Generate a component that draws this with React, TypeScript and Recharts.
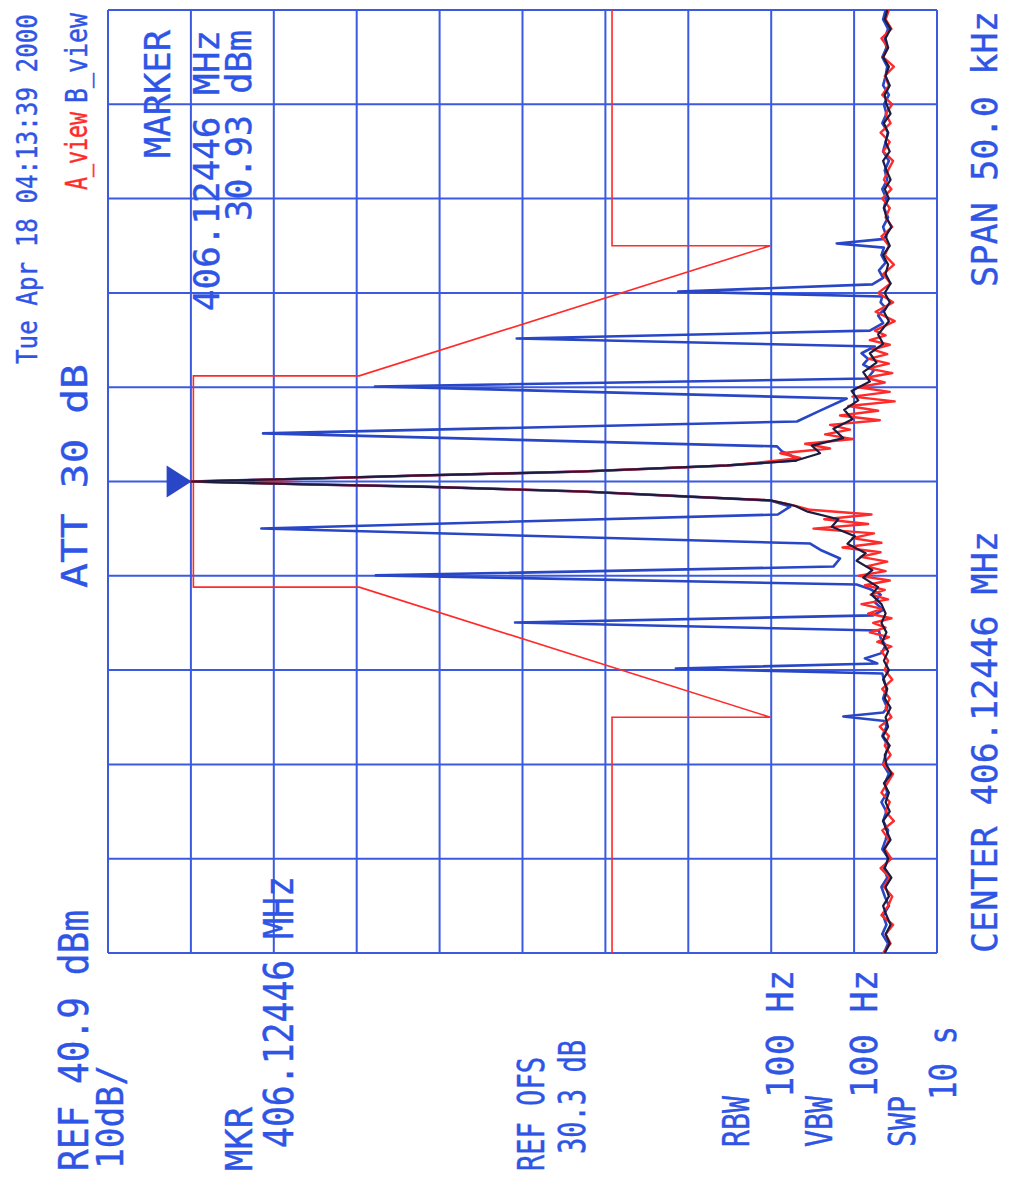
import React from 'react';
import { ScatterChart, Scatter, XAxis, YAxis, CartesianGrid } from 'recharts';

// ---------- data (frequency offset in kHz from 406.12446 MHz, level in dBm) ----------
const REF_LEVEL = 40.9;
const BOTTOM_LEVEL = -59.1;
const AMP_TICKS = [-59.1, -49.1, -39.1, -29.1, -19.1, -9.1, 0.9, 10.9, 20.9, 30.9, 40.9];
const FREQ_TICKS = [-25, -20, -15, -10, -5, 0, 5, 10, 15, 20, 25];

const maskLine: [number, number][] = [
  [-25, -19.9], [-12.5, -19.9], [-12.5, -39.0], [-5.6, 10.6], [-5.6, 30.6],
  [5.6, 30.6], [5.6, 10.6], [12.5, -39.0], [12.5, -19.9], [25, -19.9],
];

const bViewTrace: [number, number][] = [
  [-25, -52.7], [-24.5, -53.2], [-24, -52.5], [-23.5, -53.0], [-23, -52.6], [-22.5, -53.3], [-22, -52.8],
  [-21.5, -52.4], [-21, -53.1], [-20.5, -52.7], [-20, -53.3], [-19.5, -52.5], [-19, -52.9], [-18.5, -53.2],
  [-18, -52.6], [-17.5, -53.0], [-17, -52.4], [-16.5, -53.1], [-16, -52.8], [-15.5, -53.3], [-15, -52.6],
  [-14.5, -52.9], [-14, -53.2], [-13.5, -52.5], [-13, -53.0],
  [-12.7, -52.8], [-12.46, -47.8], [-12.25, -52.6],
  [-12, -53.1], [-11.5, -52.6], [-11, -53.0], [-10.5, -52.7],
  [-10.18, -52.5], [-9.92, -27.6], [-9.65, -51.9], [-9.38, -50.4], [-9.1, -52.4], [-8.7, -52.9], [-8.3, -52.3],
  [-7.9, -52.1], [-7.48, -8.2], [-7.1, -51.4], [-6.8, -52.6], [-6.4, -51.6], [-6.0, -52.3], [-5.7, -51.0],
  [-5.46, -49.4], [-4.98, 8.6], [-4.51, -46.6], [-4.08, -47.4], [-3.66, -45.2],
  [-3.29, -43.8], [-2.49, 22.4], [-1.75, -39.9], [-1.33, -41.4],
  [-1.01, -39.0], [-0.8, -29.2], [-0.53, -16.3], [-0.27, 3.1], [-0.16, 16.1], [0, 30.9],
  [0.16, 16.1], [0.32, 3.1], [0.53, -16.3], [0.85, -33.8], [1.11, -42.1],
  [1.35, -41.6], [1.6, -40.4], [1.86, -39.8], [2.55, 22.2], [3.18, -42.2], [3.76, -45.0], [4.4, -48.2],
  [5.04, 8.7], [5.46, -50.7], [5.9, -51.5], [6.2, -50.2], [6.5, -50.8], [6.8, -50.0], [7.16, -51.6],
  [7.58, -8.4], [8.0, -51.0], [8.4, -52.6], [8.8, -52.0], [9.2, -52.9], [9.5, -52.3], [9.81, -52.5],
  [10.07, -27.9], [10.45, -51.3], [10.8, -52.6], [11.2, -52.1], [11.6, -52.9], [12.0, -52.4], [12.4, -52.7],
  [12.62, -47.0], [12.85, -52.5],
  [13.0, -53.0], [13.5, -52.6], [14, -53.2], [14.5, -52.7], [15, -53.0], [15.5, -52.5], [16, -53.1],
  [16.5, -52.8], [17, -53.3], [17.5, -52.6], [18, -52.9], [18.5, -53.2], [19, -52.5], [19.5, -53.0],
  [20, -52.7], [20.5, -53.3], [21, -52.6], [21.5, -52.9], [22, -53.1], [22.5, -52.5], [23, -53.0],
  [23.5, -52.8], [24, -53.2], [24.5, -52.6], [25, -52.9],
];

const aViewTrace: [number, number][] = [
  [-25, -52.6], [-24.5, -53.5], [-24, -52.9], [-23.5, -53.8], [-23, -52.4], [-22.5, -53.2], [-22, -53.7],
  [-21.5, -52.7], [-21, -53.4], [-20.5, -52.3], [-20, -53.6], [-19.5, -52.8], [-19, -53.3], [-18.5, -52.5],
  [-18, -53.9], [-17.5, -52.9], [-17, -53.4], [-16.5, -52.4], [-16, -53.1], [-15.5, -53.8], [-15, -52.6],
  [-14.5, -53.5], [-14, -52.8], [-13.5, -53.3], [-13, -52.2], [-12.5, -53.6], [-12, -52.9], [-11.5, -53.4],
  [-11, -52.5], [-10.5, -53.7], [-10, -52.8], [-9.5, -53.2],
  [-9, -52.4], [-8.75, -53.6], [-8.5, -51.9], [-8.25, -53.3], [-8, -51.0], [-7.75, -52.9], [-7.5, -51.4],
  [-7.25, -53.6], [-7, -50.8], [-6.75, -52.5], [-6.5, -50.0], [-6.25, -53.2], [-6, -51.1], [-5.75, -52.8],
  [-5.5, -50.4], [-5.25, -53.4], [-5, -49.7], [-4.75, -52.9], [-4.5, -50.6], [-4.25, -53.1], [-4, -49.9],
  [-3.75, -52.3], [-3.5, -47.7], [-3.25, -52.4], [-3, -48.9], [-2.75, -51.5], [-2.5, -44.2], [-2.25, -50.8],
  [-2, -45.5], [-1.75, -51.2], [-1.5, -43.8], [-1.25, -41.7],
  [-1.0, -39.0], [-0.8, -29.2], [-0.53, -16.3], [-0.27, 3.1], [-0.16, 16.1], [0, 30.9],
  [0.16, 16.1], [0.32, 3.1], [0.53, -16.3], [0.85, -33.8],
  [1.0, -37.5], [1.25, -42.6], [1.5, -40.2], [1.75, -46.2], [2, -43.2], [2.25, -49.0], [2.5, -45.6],
  [2.75, -48.6], [3, -46.2], [3.25, -52.2], [3.5, -47.4], [3.75, -52.0], [4, -48.4], [4.25, -54.0],
  [4.5, -48.9], [4.75, -53.4], [5, -49.6], [5.25, -52.8], [5.5, -50.5], [5.75, -53.7], [6, -50.8],
  [6.25, -53.3], [6.5, -50.9], [6.75, -53.1], [7, -51.3], [7.25, -53.4], [7.5, -51.0], [7.75, -52.9],
  [8, -51.6], [8.5, -54.0], [9, -51.7], [9.5, -53.8], [10, -52.0],
  [10.5, -53.5], [11, -52.6], [11.5, -53.9], [12, -52.8], [12.5, -53.3], [13, -52.4], [13.5, -53.7],
  [14, -52.9], [14.5, -53.4], [15, -52.5], [15.5, -53.6], [16, -52.7], [16.5, -53.2], [17, -53.8],
  [17.5, -52.6], [18, -53.4], [18.5, -52.3], [19, -53.5], [19.5, -52.9], [20, -53.7], [20.5, -52.5],
  [21, -53.3], [21.5, -52.8], [22, -53.9], [22.5, -52.6], [23, -53.2], [23.5, -52.4], [24, -53.6],
  [24.5, -52.9], [25, -53.3],
];

const overlapTrace: [number, number][] = [
  [-25, -52.8], [-24.5, -53.4], [-24, -52.9], [-23.5, -53.5], [-23, -53.0], [-22.5, -52.6], [-22, -53.3],
  [-21.5, -52.9], [-21, -53.6], [-20.5, -52.8], [-20, -53.2], [-19.5, -52.7], [-19, -53.5], [-18.5, -53.0],
  [-18, -52.6], [-17.5, -53.4], [-17, -52.9], [-16.5, -53.3], [-16, -52.7], [-15.5, -53.6], [-15, -53.0],
  [-14.5, -52.8], [-14, -53.4], [-13.5, -52.6], [-13, -53.2], [-12.5, -52.9], [-12, -53.5], [-11.5, -52.8],
  [-11, -53.1], [-10.5, -52.6], [-10, -53.3], [-9.5, -52.7], [-9, -53.2], [-8.5, -52.5], [-8, -53.0],
  [-7.5, -52.4], [-7, -52.9],
  [-6.5, -52.4], [-6.0, -51.2], [-5.6, -52.0], [-5.1, -50.2], [-4.7, -51.3], [-4.2, -49.4], [-3.8, -50.5],
  [-3.3, -48.3], [-2.9, -49.2], [-2.4, -46.4], [-2.0, -47.2], [-1.6, -43.5], [-1.3, -42.0], [-1.17, -40.8],
  [-1.0, -39.0], [-0.8, -29.2], [-0.53, -16.3], [-0.27, 3.1], [-0.16, 16.1], [0, 30.9],
  [0.16, 16.1], [0.32, 3.1], [0.53, -16.3], [0.85, -33.8], [1.11, -42.1],
  [1.5, -45.0], [1.9, -44.0], [2.3, -47.8], [2.8, -46.6], [3.3, -48.9], [3.8, -47.9], [4.3, -49.6],
  [4.8, -48.8], [5.3, -51.0], [5.8, -50.2], [6.3, -51.8], [6.8, -51.0], [7.3, -52.6], [7.8, -52.0],
  [8.5, -53.3], [9, -52.7], [9.5, -53.4], [10, -52.8], [10.5, -53.5], [11, -52.9], [11.5, -53.2],
  [12, -52.6], [12.5, -53.4], [13, -52.9], [13.5, -53.6], [14, -53.0], [14.5, -52.7], [15, -53.3],
  [15.5, -52.8], [16, -53.5], [16.5, -53.0], [17, -52.6], [17.5, -53.4], [18, -52.9], [18.5, -53.2],
  [19, -52.7], [19.5, -53.5], [20, -53.0], [20.5, -52.8], [21, -53.4], [21.5, -52.9], [22, -53.3],
  [22.5, -52.6], [23, -53.2], [23.5, -52.9], [24, -53.5], [24.5, -52.8], [25, -53.1],
];

const markerPoint: [number, number][] = [[0, 30.93]];

// ---------- texts ----------
const DATE_TEXT = 'Tue Apr 18 04:13:39 2000';
const ATT_TEXT = 'ATT 30 dB';
const A_VIEW = 'A_view';
const B_VIEW = 'B_view';
const MARKER_TITLE = 'MARKER';
const MARKER_FREQ = '406.12446 MHz';
const MARKER_LEVEL = '30.93 dBm';
const SPAN_TEXT = 'SPAN 50.0 kHz';
const CENTER_TEXT = 'CENTER 406.12446 MHz';
const REF_TEXT = 'REF 40.9 dBm';
const SCALE_TEXT = '10dB/';
const MKR_TITLE = 'MKR';
const MKR_FREQ = '406.12446 MHz';
const OFS_TITLE = 'REF OFS';
const OFS_VALUE = '30.3 dB';
const RBW_TITLE = 'RBW';
const RBW_VALUE = '100 Hz';
const VBW_TITLE = 'VBW';
const VBW_VALUE = '100 Hz';
const SWP_TITLE = 'SWP';
const SWP_VALUE = '10 s';

// ---------- styles ----------
const W = 1013;
const H = 1184;
const GRID = '#3a5ae2';
const TEXT_BLUE = '#2f55e6';
const TRACE_BLUE = '#2846c6';
const RED = '#ff2a2a';
const DARK = '#1c1c40';
const FONT = '"DejaVu Sans Mono", "Liberation Mono", monospace';
const MONO_ADVANCE = 0.602; // em advance of DejaVu Sans Mono

const toPoints = (arr: [number, number][]) => arr.map(([f, a]) => ({ f, a }));

const NoDot = () => <g />;

const MarkerShape = (props: any) => {
  const { cx, cy } = props;
  if (cx == null || cy == null) return <g />;
  const tipX = cx + 1;
  return (
    <polygon
      points={`${tipX},${cy} ${tipX - 25},${cy - 16} ${tipX - 25},${cy + 16}`}
      fill={TRACE_BLUE}
    />
  );
};

type LabelProps = { x: number; y: number; len: number; size: number; color?: string; text: string };

// Text read bottom-to-top; (x, y) = baseline / start point, len = drawn length.
const VLabel = ({ x, y, len, size, color = TEXT_BLUE, text }: LabelProps) => {
  const natural = text.length * MONO_ADVANCE * size;
  const sx = len / natural;
  return (
    <text
      transform={`translate(${x},${y}) rotate(-90) scale(${sx.toFixed(4)},1)`}
      x={0}
      y={0}
      fontFamily={FONT}
      fontSize={size}
      fill={color}
      stroke={color}
      strokeWidth={0.4}
    >
      {text}
    </text>
  );
};

export default function App() {
  return (
    <div style={{ position: 'absolute', left: 0, top: 0, width: W, height: H, background: '#ffffff', overflow: 'hidden' }}>
      <ScatterChart width={W} height={H} margin={{ top: 10, right: 76, bottom: 231, left: 108 }}>
        <XAxis
          type="number"
          dataKey="a"
          domain={[BOTTOM_LEVEL, REF_LEVEL]}
          ticks={AMP_TICKS}
          reversed
          allowDataOverflow
          hide
        />
        <YAxis
          type="number"
          dataKey="f"
          domain={[-25, 25]}
          ticks={FREQ_TICKS}
          allowDataOverflow
          hide
        />
        <CartesianGrid stroke={GRID} strokeWidth={2} />
        <Scatter
          data={toPoints(maskLine)}
          isAnimationActive={false}
          line={{ stroke: RED, strokeWidth: 1.6 }}
          shape={<NoDot />}
        />
        <Scatter
          data={toPoints(bViewTrace)}
          isAnimationActive={false}
          line={{ stroke: TRACE_BLUE, strokeWidth: 2.6, strokeLinejoin: 'round' }}
          shape={<NoDot />}
        />
        <Scatter
          data={toPoints(aViewTrace)}
          isAnimationActive={false}
          line={{ stroke: RED, strokeWidth: 2.4, strokeLinejoin: 'round' }}
          shape={<NoDot />}
        />
        <Scatter
          data={toPoints(overlapTrace)}
          isAnimationActive={false}
          line={{ stroke: DARK, strokeWidth: 2.2, strokeLinejoin: 'round' }}
          shape={<NoDot />}
        />
        <Scatter data={toPoints(markerPoint)} isAnimationActive={false} shape={<MarkerShape />} />
      </ScatterChart>
      <svg
        width={W}
        height={H}
        style={{ position: 'absolute', left: 0, top: 0, pointerEvents: 'none' }}
      >
        <VLabel x={37} y={364} len={350} size={28} text={DATE_TEXT} />
        <VLabel x={87} y={588} len={224} size={36} text={ATT_TEXT} />
        <VLabel x={87} y={190} len={78} size={30} color={RED} text={A_VIEW} />
        <VLabel x={87} y={103} len={90} size={30} text={B_VIEW} />

        <VLabel x={170} y={158} len={128} size={35} text={MARKER_TITLE} />
        <VLabel x={219} y={311} len={281} size={35} text={MARKER_FREQ} />
        <VLabel x={251} y={221} len={191} size={35} text={MARKER_LEVEL} />

        <VLabel x={997} y={287} len={276} size={36} text={SPAN_TEXT} />
        <VLabel x={997} y={953} len={422} size={36} text={CENTER_TEXT} />

        <VLabel x={88} y={1171} len={261} size={40} text={REF_TEXT} />
        <VLabel x={123} y={1169} len={104} size={38} text={SCALE_TEXT} />
        <VLabel x={252} y={1171} len={64} size={38} text={MKR_TITLE} />
        <VLabel x={293} y={1148} len={272} size={40} text={MKR_FREQ} />
        <VLabel x={544} y={1171} len={114} size={38} text={OFS_TITLE} />
        <VLabel x={585} y={1154} len={114} size={38} text={OFS_VALUE} />
        <VLabel x={749} y={1147} len={51} size={38} text={RBW_TITLE} />
        <VLabel x={793} y={1098} len={128} size={38} text={RBW_VALUE} />
        <VLabel x={832} y={1147} len={51} size={38} text={VBW_TITLE} />
        <VLabel x={877} y={1098} len={128} size={38} text={VBW_VALUE} />
        <VLabel x={915} y={1147} len={51} size={38} text={SWP_TITLE} />
        <VLabel x={956} y={1100} len={74} size={38} text={SWP_VALUE} />
      </svg>
    </div>
  );
}
